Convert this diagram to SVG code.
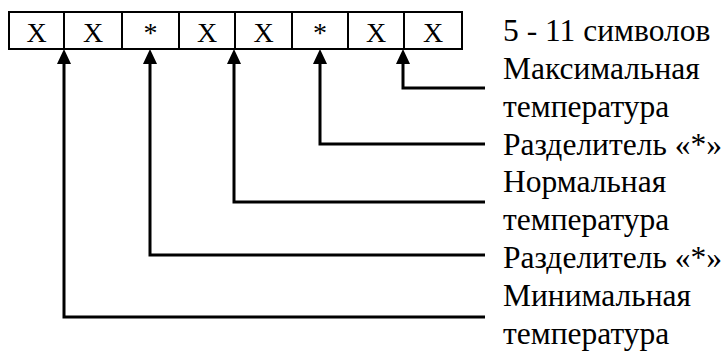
<svg xmlns="http://www.w3.org/2000/svg" width="726" height="351" viewBox="0 0 726 351">
<style>
.cell{fill:#fff;stroke:#000;stroke-width:2}
.ct{font-family:'Liberation Serif',serif;font-size:28px;text-anchor:middle;fill:#000}
.lb{font-family:'Liberation Serif',serif;font-size:31.5px;fill:#000}
.cn{fill:none;stroke:#000;stroke-width:3;stroke-linejoin:miter}
</style>
<rect width="726" height="351" fill="#fff"/>
<g id="cells">
<g id="c1"><rect class="cell" x="9" y="12" width="55" height="37"/><text class="ct" x="36.5" y="42">X</text></g>
<g id="c2"><rect class="cell" x="64" y="12" width="58" height="37"/><text class="ct" x="93" y="42">X</text></g>
<g id="c3"><rect class="cell" x="122" y="12" width="57" height="37"/><text class="ct" x="150.5" y="42">*</text></g>
<g id="c4"><rect class="cell" x="179" y="12" width="56" height="37"/><text class="ct" x="207" y="42">X</text></g>
<g id="c5"><rect class="cell" x="235" y="12" width="57" height="37"/><text class="ct" x="263.5" y="42">X</text></g>
<g id="c6"><rect class="cell" x="292" y="12" width="56" height="37"/><text class="ct" x="320" y="42">*</text></g>
<g id="c7"><rect class="cell" x="348" y="12" width="56" height="37"/><text class="ct" x="376" y="42">X</text></g>
<g id="c8"><rect class="cell" x="404" y="12" width="58" height="37"/><text class="ct" x="433" y="42">X</text></g>
</g>
<g id="connectors">
<path class="cn" d="M485 88 H403 V64"/>
<path class="cn" d="M485 144 H320 V64"/>
<path class="cn" d="M485 202 H234 V64"/>
<path class="cn" d="M485 255 H150 V64"/>
<path class="cn" d="M485 317 H64 V64"/>
<path d="M403 49 L410 64 L396 64 Z" fill="#000"/>
<path d="M320 49 L327 64 L313 64 Z" fill="#000"/>
<path d="M234 49 L241 64 L227 64 Z" fill="#000"/>
<path d="M150 49 L157 64 L143 64 Z" fill="#000"/>
<path d="M64 49 L71 64 L57 64 Z" fill="#000"/>
</g>
<g id="labels">
<text class="lb" x="503" y="41">5 - 11 символов</text>
<text class="lb" x="503" y="79">Максимальная</text>
<text class="lb" x="503" y="117">температура</text>
<text class="lb" x="503" y="155">Разделитель «*»</text>
<text class="lb" x="503" y="192">Нормальная</text>
<text class="lb" x="503" y="230">температура</text>
<text class="lb" x="503" y="268">Разделитель «*»</text>
<text class="lb" x="503" y="306">Минимальная</text>
<text class="lb" x="503" y="344">температура</text>
</g>
</svg>
